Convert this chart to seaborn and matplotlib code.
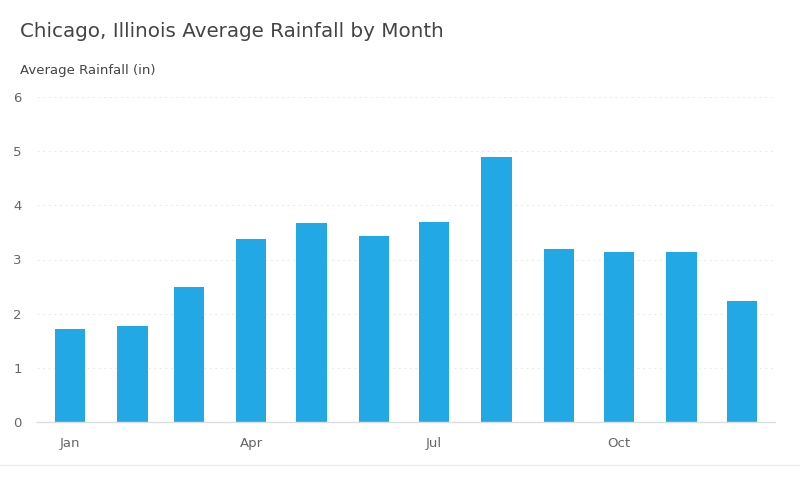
import matplotlib
matplotlib.use("Agg")
import matplotlib.pyplot as plt
import seaborn as sns
import pandas as pd

months = ["Jan", "Feb", "Mar", "Apr", "May", "Jun", "Jul", "Aug", "Sep", "Oct", "Nov", "Dec"]
day_of_year = [0, 31, 59, 90, 120, 151, 181, 212, 243, 273, 304, 334]
rainfall = [1.72, 1.78, 2.49, 3.37, 3.67, 3.44, 3.69, 4.89, 3.20, 3.14, 3.14, 2.24]
tick_days = [0, 90, 181, 273]
tick_labels = ["Jan", "Apr", "Jul", "Oct"]

df = pd.DataFrame({"month": months, "day": day_of_year, "rain": rainfall})

sns.set_theme(style="white")
plt.rcParams["font.family"] = ["DejaVu Sans"]

fig = plt.figure(figsize=(8, 5), dpi=100)
ax = fig.add_axes([37 / 800, 1 - 422 / 500, (775 - 37) / 800, (422 - 97) / 500])

sns.barplot(data=df, x="day", y="rain", native_scale=True, width=15 / 28,
            color="#23a8e6", saturation=1, ax=ax, edgecolor="none", linewidth=0)

ax.set_xlim(-16.5, 350.5)
ax.set_ylim(0, 6)
ax.set_yticks(range(0, 7))
ax.set_xticks(tick_days)
ax.set_xticklabels(tick_labels)
ax.set_xlabel("")
ax.set_ylabel("")

for y in range(1, 7):
    ax.axhline(y, color="#ececec", linewidth=0.8, linestyle=(0, (2, 3)), zorder=0)

for s in ["top", "right", "left"]:
    ax.spines[s].set_visible(False)
ax.spines["bottom"].set_color("#dddddd")
ax.spines["bottom"].set_linewidth(1)

ax.tick_params(axis="x", length=5, width=1, color="#dddddd", labelcolor="#666666",
               labelsize=9.5, pad=6)
ax.tick_params(axis="y", length=0, labelcolor="#666666", labelsize=9.5)
for lbl in ax.get_yticklabels():
    lbl.set_horizontalalignment("left")
ax.yaxis.set_tick_params(pad=17)

fig.text(20 / 800, 1 - 31.5 / 500, "Chicago, Illinois Average Rainfall by Month",
         fontsize=14.3, color="#444444", ha="left", va="center")
fig.text(20 / 800, 1 - 70.5 / 500, "Average Rainfall (in)",
         fontsize=9.5, color="#444444", ha="left", va="center")

fig.add_artist(plt.Line2D([0, 1], [1 - 465 / 500, 1 - 465 / 500], color="#eeeeee",
                          linewidth=1, transform=fig.transFigure))

fig.savefig("out.png", dpi=100)
